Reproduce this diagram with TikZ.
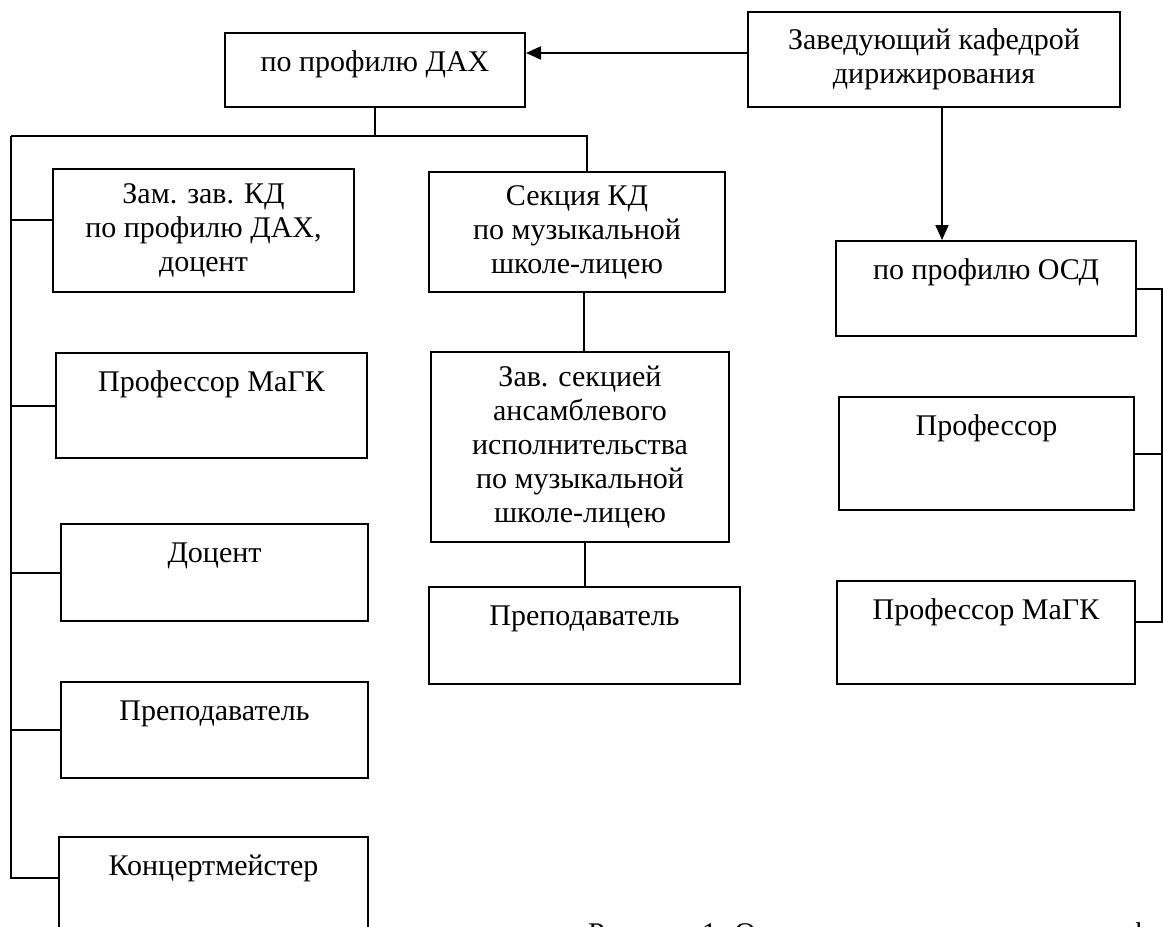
\documentclass[tikz,border=0pt]{standalone}
\usepackage{fontspec}
\setmainfont{Liberation Serif}
\usetikzlibrary{arrows.meta}

\begin{document}
\begin{tikzpicture}[x=1pt, y=-1pt, line width=2pt,
    box/.style={draw, inner sep=0pt, anchor=north west, align=center,
      font=\fontsize{30}{34}\selectfont},
    toptext/.style={text height=38pt, text depth=#1},
    arrowline/.style={-{Triangle[length=15pt,width=13pt]}}]

        % размер рисунка
        \useasboundingbox (0,0) rectangle (1163,927);
        \clip (0,0) rectangle (1163,927);

        % заведующий и два профиля
        \node[box, minimum width=372pt, minimum height=95pt] (head) at (747,11) {Заведующий кафедрой\\дирижирования};
        \node[box, minimum width=300pt, toptext=36pt] (dax) at (224,32) {по профилю ДАХ};
        \node[box, minimum width=300pt, toptext=57pt] (osd) at (835,240) {по профилю ОСД};

        \draw[arrowline] (head.178) -- (head.178 -| dax.east);
        \draw[arrowline] ([xshift=8pt]head.south) -- ([xshift=8pt]head.south |- osd.north);

        % левая колонка
        \node[box, minimum width=301pt, minimum height=123pt] (zam) at (52,168) {Зам. зав. КД\\по профилю ДАХ,\\доцент};
        \node[box, minimum width=311pt, toptext=67pt] (profm) at (55,352) {Профессор МаГК};
        \node[box, minimum width=307pt, toptext=59pt] (doc) at (60,523) {Доцент};
        \node[box, minimum width=307pt, toptext=58pt] (prepl) at (60,681) {Преподаватель};
        \node[box, minimum width=309pt, toptext=59pt] (kon) at (58,836) {Концертмейстер};

        % средняя колонка
        \node[box, minimum width=296pt, minimum height=120pt] (sec) at (428,171) {Секция КД\\по музыкальной\\школе-лицею};
        \node[box, minimum width=298pt, minimum height=190pt] (zav) at (430,351) {Зав. секцией\\ансамблевого\\исполнительства\\по музыкальной\\школе-лицею};
        \node[box, minimum width=311pt, toptext=59pt] (prepm) at (428,586) {Преподаватель};

        % правая колонка
        \node[box, minimum width=295pt, toptext=75pt] (profr) at (838,396) {Профессор};
        \node[box, minimum width=298pt, toptext=65pt] (mgkr) at (836,580) {Профессор МаГК};

        % шина слева
        \coordinate (lbus) at (11,136);
        \draw (dax.south) -- (dax.south |- lbus);
        \draw (lbus) -| ([xshift=10pt]sec.north);
        \draw (lbus) |- ([yshift=7.5pt]kon.west);
        \draw ([yshift=10.5pt]zam.west) -- ([yshift=10.5pt]zam.west -| lbus);
        \foreach \n in {profm, doc, prepl}
            \draw (\n.west) -- (\n.west -| lbus);

        \draw ([xshift=7pt]sec.south) -- ([xshift=7pt]sec.south |- zav.north);
        \draw ([xshift=5pt]zav.south) -- ([xshift=5pt]zav.south |- prepm.north);

        % шина справа
        \coordinate (rbus) at (1162,287);
        \draw (osd.east) -- (osd.east -| rbus) |- ([yshift=10.5pt]mgkr.east);
        \draw (profr.east) -- (profr.east -| rbus);

        % подпись
        \node[anchor=base west, inner sep=0pt, font=\fontsize{30}{34}\selectfont] (cap) at (587,943) {Рисунок 1. Организационная структура кафедры дирижирования};
    \end{tikzpicture}
\end{document}
